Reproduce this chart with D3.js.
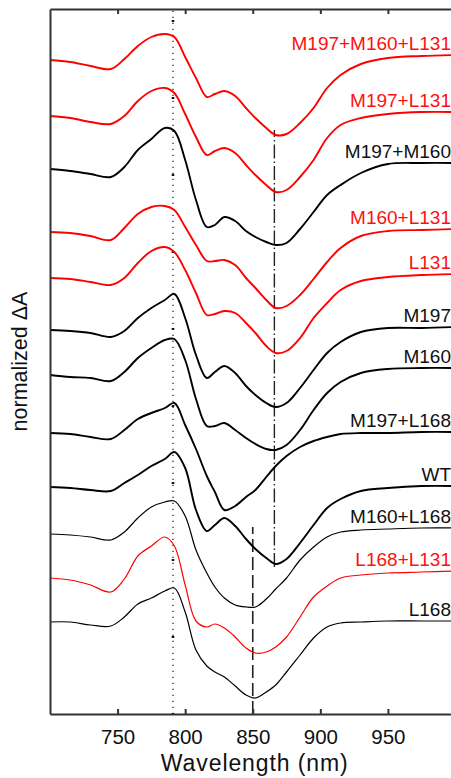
<!DOCTYPE html>
<html>
<head>
<meta charset="utf-8">
<script src="https://cdn.jsdelivr.net/npm/d3@7"></script>
<style>
  body { margin: 0; background: #fff; }
  svg { display: block; font-family: "Liberation Sans", Arial, sans-serif; }
</style>
</head>
<body>
<div id="spectra_chart"></div>
<script>
// wavelength grid (nm) the traces were read at
const wavelengths = [700, 715, 730, 745, 755, 765, 775, 785, 792, 800, 808, 816, 822, 829,
  837, 845, 852, 860, 867, 875, 885, 895, 905, 915, 930, 950, 975, 1000];

// normalized dA with stacking offset, top trace first
const M197_M160_L131 = [65.4, 65.2, 64.8, 64.5, 65.5, 66.8, 67.7, 68.0, 67.7, 65.7, 63.6, 61.7, 62.0, 62.3,
  61.8, 60.6, 59.6, 58.6, 57.9, 58.0, 59.1, 60.6, 62.6, 63.9, 65.0, 65.6, 65.8, 65.9];
const M197_L131 = [59.8, 59.6, 59.2, 59.0, 59.8, 61.3, 62.3, 62.6, 62.1, 60.0, 57.7, 55.9, 56.3, 56.6,
  56.1, 54.9, 53.9, 52.9, 52.2, 52.4, 53.7, 55.4, 57.6, 58.9, 59.6, 60.0, 60.2, 60.2];
const M197_M160 = [54.5, 54.3, 54.0, 53.7, 54.7, 56.4, 57.5, 58.6, 58.3, 55.4, 51.4, 48.7, 48.9, 49.7,
  49.3, 48.3, 47.7, 47.2, 46.9, 47.1, 48.5, 50.2, 51.9, 52.9, 54.1, 55.0, 55.1, 55.1];
const M160_L131 = [48.2, 48.1, 47.8, 47.4, 48.6, 50.0, 50.7, 50.8, 50.4, 48.7, 46.9, 45.3, 45.3, 45.4,
  44.9, 43.6, 42.6, 41.4, 40.6, 40.8, 41.9, 43.5, 45.2, 46.6, 47.8, 48.3, 48.4, 48.5];
const L131 = [43.6, 43.5, 43.2, 42.9, 43.6, 45.1, 46.3, 46.7, 46.2, 44.4, 42.1, 39.9, 40.0, 40.3,
  40.1, 39.1, 38.1, 36.8, 36.1, 36.3, 37.6, 39.6, 41.1, 42.4, 43.3, 43.7, 43.9, 44.0];
const M197 = [38.4, 38.3, 38.1, 37.7, 38.3, 39.6, 40.6, 41.4, 42.0, 39.6, 35.9, 33.6, 34.2, 34.8,
  34.1, 32.8, 31.9, 31.1, 30.7, 31.1, 32.6, 34.4, 36.1, 37.2, 38.2, 38.6, 38.6, 38.7];
const M160 = [33.9, 33.7, 33.6, 33.3, 34.2, 35.6, 36.6, 37.4, 37.5, 35.4, 31.5, 28.8, 28.8, 29.1,
  28.4, 27.6, 27.0, 26.5, 26.4, 26.9, 28.4, 30.4, 32.1, 33.2, 34.1, 34.5, 34.6, 34.6];
const M197_L168 = [28.1, 28.0, 27.7, 27.5, 28.4, 29.5, 30.1, 30.6, 31.1, 28.9, 26.5, 23.8, 22.2, 20.4,
  20.8, 21.7, 22.4, 23.7, 24.8, 25.8, 26.7, 27.3, 27.7, 28.0, 28.1, 28.1, 28.2, 28.2];
const WT = [22.7, 22.6, 22.4, 22.3, 23.1, 23.9, 24.8, 25.5, 26.2, 24.6, 20.4, 18.3, 18.9, 19.6,
  18.8, 17.5, 16.5, 15.6, 15.0, 15.5, 17.1, 18.9, 20.6, 21.5, 22.3, 22.6, 22.8, 22.8];
const M160_L168 = [18.0, 17.9, 17.7, 17.4, 18.2, 19.6, 20.7, 21.2, 21.3, 19.8, 16.4, 14.1, 12.7, 11.6,
  10.9, 10.7, 10.7, 11.5, 12.5, 13.6, 15.4, 16.7, 17.7, 18.2, 18.4, 18.5, 18.6, 18.6];
const L168_L131 = [13.6, 13.4, 12.9, 12.2, 13.5, 15.8, 16.8, 17.7, 16.8, 12.9, 9.3, 8.7, 9.0, 8.6,
  7.7, 6.6, 6.1, 6.2, 6.7, 7.7, 9.7, 11.7, 12.8, 13.6, 13.9, 14.1, 14.2, 14.3];
const L168 = [9.2, 9.2, 8.9, 8.8, 9.7, 11.0, 11.6, 12.3, 12.6, 10.2, 6.4, 4.8, 4.2, 3.7,
  2.8, 1.9, 1.6, 2.2, 2.9, 4.2, 5.9, 7.6, 8.7, 9.1, 9.2, 9.3, 9.3, 9.3];

const traceLabels = ['M197+M160+L131', 'M197+L131', 'M197+M160', 'M160+L131', 'L131', 'M197',
  'M160', 'M197+L168', 'WT', 'M160+L168', 'L168+L131', 'L168'];
const traceValues = [M197_M160_L131, M197_L131, M197_M160, M160_L131, L131, M197,
  M160, M197_L168, WT, M160_L168, L168_L131, L168];

const xTicks = [750, 800, 850, 900, 950];

// marker lines: wavelength (nm) and the dA span each one covers
const refWavelengths = [791, 866, 850];
const refFrom = [0, 14.7, 0];
const refTo = [70.5, 58.4, 18.7];

const render = (id) => {
  const W = 451, H = 778;
  const margin = { top: 9, left: 50, bottom: 64 };
  const plotRight = 455.5; // right frame sits just past the window edge

  const xScale = d3.scaleLinear().domain([700, 1000]).range([margin.left, plotRight]);
  const yScale = d3.scaleLinear().domain([0, 70.5]).range([H - margin.bottom, margin.top]);

  const svg = d3.select(`#${id}`)
    .append('svg')
    .attr('width', W)
    .attr('height', H);

  //marker lines go under the traces
  const refStyles = [
    { dash: '1.2,4.8', width: 1.3 },
    { dash: '14,3,1.5,3', width: 1.4 },
    { dash: '13,5', width: 1.6 },
  ];
  refWavelengths.forEach((nm, i) => {
    svg.append('line')
      .attr('x1', xScale(nm)).attr('x2', xScale(nm))
      .attr('y1', yScale(refFrom[i])).attr('y2', yScale(refTo[i]))
      .attr('stroke', '#222')
      .attr('stroke-width', refStyles[i].width)
      .attr('stroke-dasharray', refStyles[i].dash);
  });
  // the heavier dots that show on the dotted line
  svg.append('line')
    .attr('x1', xScale(refWavelengths[0])).attr('x2', xScale(refWavelengths[0]))
    .attr('y1', yScale(refFrom[0])).attr('y2', yScale(refTo[0]))
    .attr('stroke', '#111')
    .attr('stroke-width', 2.6)
    .attr('stroke-dasharray', '2.2,74.8')
    .attr('stroke-dashoffset', 1.1);

  const lineGenerator = d3.line()
    .x((d, i) => xScale(wavelengths[i]))
    .y(d => yScale(d))
    .curve(d3.curveCatmullRom.alpha(0.5));

  const thin = ['M160+L168', 'L168+L131', 'L168'];

  //draw traces, the L131 ones are red
  svg.append('g')
    .selectAll('path')
    .data(traceValues)
    .join('path')
    .attr('d', lineGenerator)
    .attr('fill', 'none')
    .attr('stroke', (d, i) => traceLabels[i].includes('L131') ? '#ff0000' : '#000')
    .attr('stroke-width', (d, i) => thin.includes(traceLabels[i]) ? 1.2 : 1.9)
    .attr('stroke-linejoin', 'round');

  //trace names sit on the right end of each trace
  svg.append('g')
    .selectAll('text')
    .data(traceValues)
    .join('text')
    .attr('x', xScale(1000) - 4.5)
    .attr('y', d => yScale(d[d.length - 1]) - 5)
    .attr('text-anchor', 'end')
    .attr('font-size', 19)
    .attr('fill', (d, i) => traceLabels[i].includes('L131') ? '#ff1010' : '#111')
    .text((d, i) => traceLabels[i]);

  //frame: bottom and top axes with inward ticks, plain left side
  const yBottom = H - margin.bottom;
  const xAxis = d3.axisBottom(xScale)
    .tickValues(xTicks)
    .tickSizeInner(-5)
    .tickSizeOuter(0)
    .tickPadding(15)
    .tickFormat(d3.format('d'));

  const gx = svg.append('g')
    .attr('transform', `translate(0,${yBottom})`)
    .call(xAxis);
  gx.selectAll('text')
    .attr('font-size', 20.5)
    .attr('font-family', '"Liberation Sans", Arial, sans-serif')
    .attr('fill', '#111');

  svg.append('g')
    .attr('transform', `translate(0,${margin.top})`)
    .call(d3.axisTop(xScale).tickValues(xTicks).tickSizeInner(-5).tickSizeOuter(0).tickFormat(''));

  svg.append('g')
    .attr('transform', `translate(${margin.left},0)`)
    .call(d3.axisLeft(yScale).tickValues([]).tickSizeOuter(0));

  svg.selectAll('.domain, .tick line')
    .attr('stroke', '#333')
    .attr('stroke-width', 2);

  svg.append('text')
    .attr('x', (margin.left + plotRight) / 2 + 2)
    .attr('y', 771)
    .attr('text-anchor', 'middle')
    .attr('font-size', 23)
    .attr('letter-spacing', 0.9)
    .attr('fill', '#111')
    .text('Wavelength (nm)');

  svg.append('text')
    .attr('transform', `translate(27,${(margin.top + yBottom) / 2}) rotate(-90)`)
    .attr('text-anchor', 'middle')
    .attr('font-size', 21.5)
    .attr('fill', '#111')
    .text('normalized ΔA');
};

render('spectra_chart');
</script>
</body>
</html>
